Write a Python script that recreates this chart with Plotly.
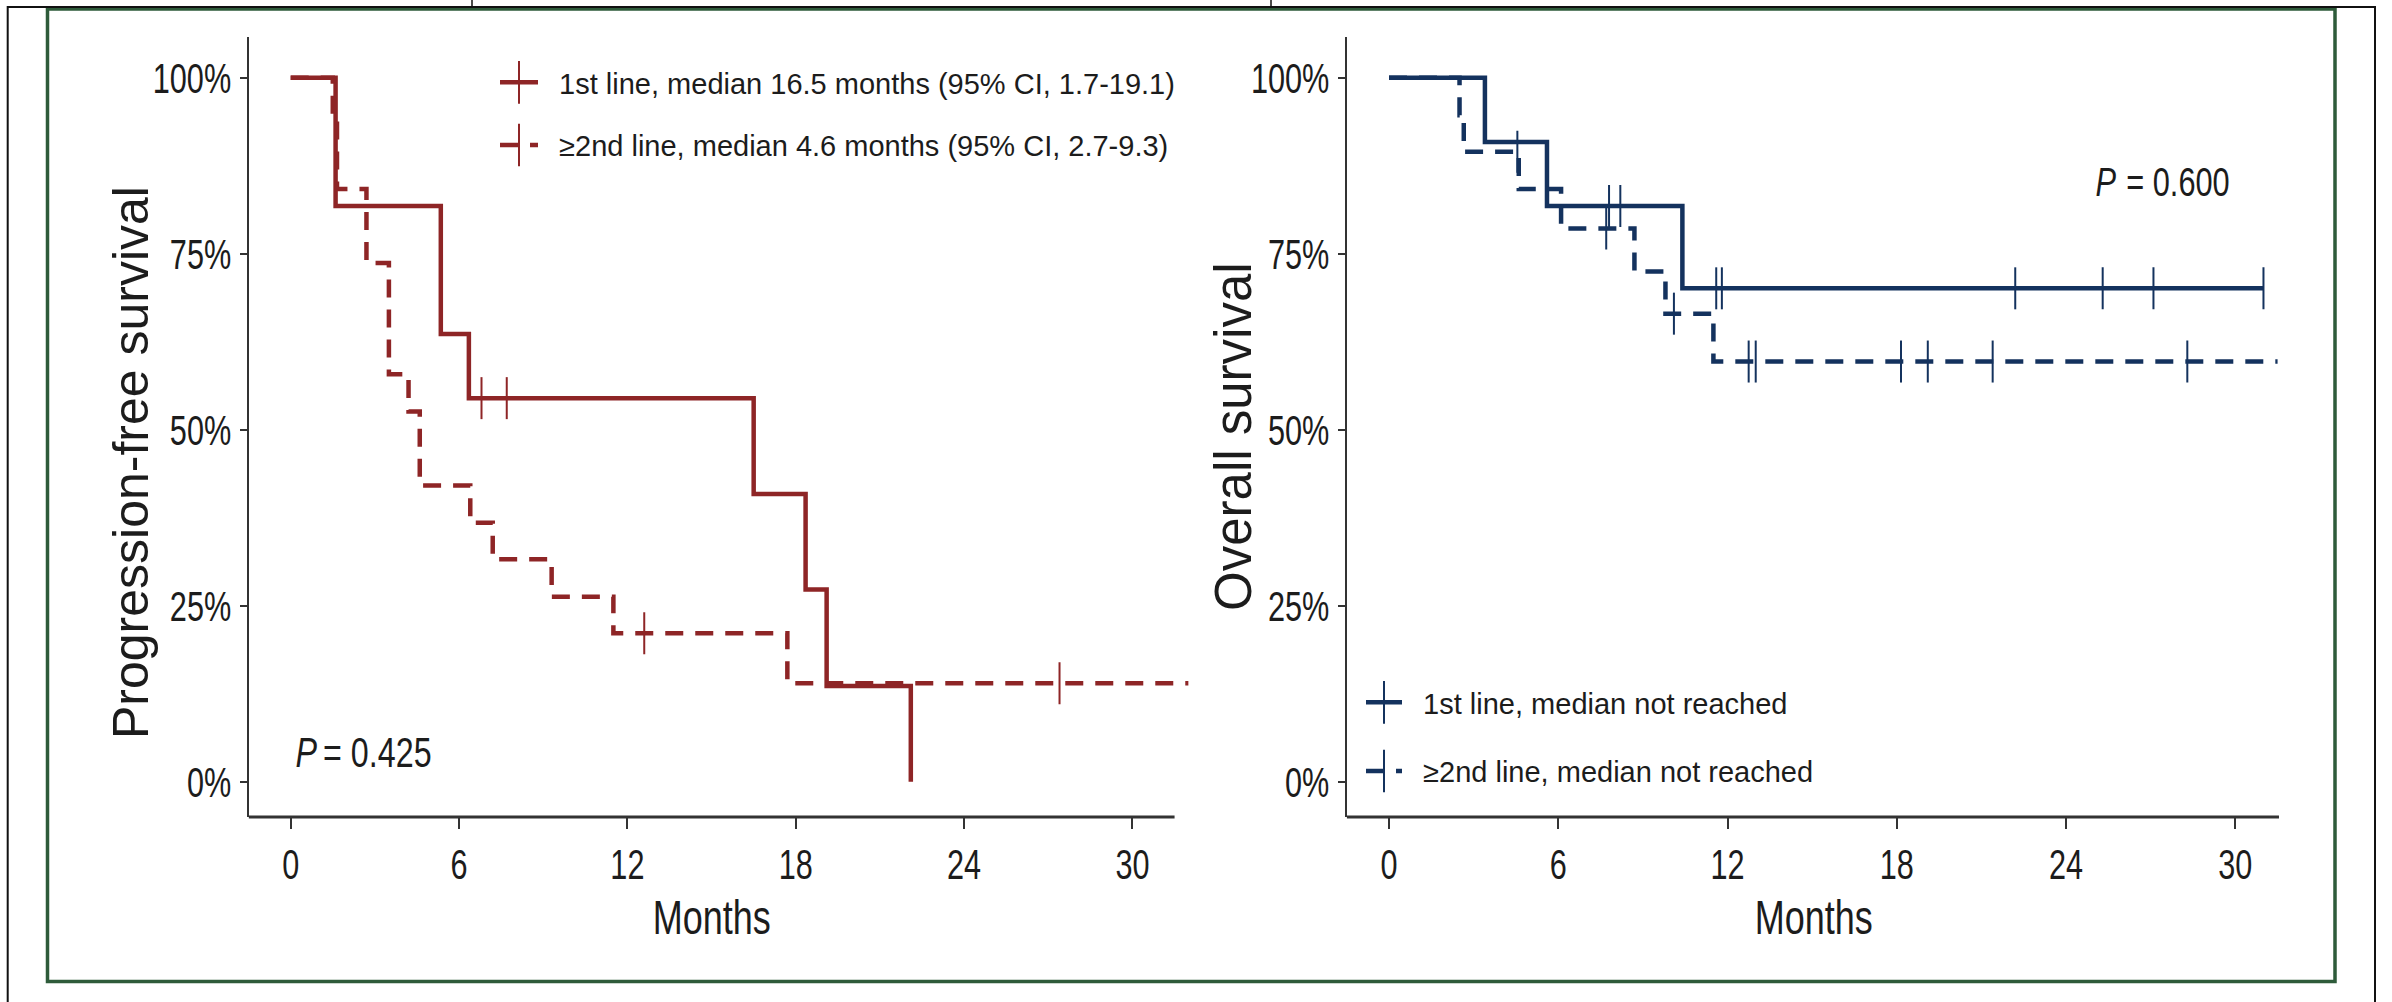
import plotly.graph_objects as go

W, H = 2392, 1002

# ---- Kaplan-Meier step points (time in months, survival fraction, 1 = censored) ----
pfs1_time = [0, 1.6, 5.35, 6.35, 6.8, 7.7, 16.5, 18.35, 19.1, 22.1]
pfs1_surv = [1.0, 0.818, 0.636, 0.545, 0.545, 0.545, 0.409, 0.273, 0.136, 0.0]
pfs1_cens = [0, 0, 0, 0, 1, 1, 0, 0, 0, 0]

pfs2_time = [0, 1.5, 1.65, 2.7, 3.5, 4.2, 4.6, 6.4, 7.2, 9.3, 11.5, 12.6, 17.7, 27.4, 32.0]
pfs2_surv = [1.0, 0.947, 0.842, 0.737, 0.579, 0.526, 0.421, 0.368, 0.316, 0.263, 0.211,
             0.211, 0.140, 0.140, 0.140]
pfs2_cens = [0, 0, 0, 0, 0, 0, 0, 0, 0, 0, 0, 1, 0, 1, 0]

os1_time = [0, 3.4, 5.6, 7.8, 8.2, 10.4, 11.6, 11.8, 22.2, 25.3, 27.1, 31.0]
os1_surv = [1.0, 0.909, 0.818, 0.818, 0.818, 0.701, 0.701, 0.701, 0.701, 0.701, 0.701, 0.701]
os1_cens = [0, 0, 0, 1, 1, 0, 1, 1, 1, 1, 1, 1]

os2_time = [0, 2.5, 2.65, 4.55, 4.6, 6.1, 7.7, 8.7, 9.8, 10.1, 11.5, 12.75, 13.0, 18.15,
            19.1, 21.4, 28.3, 31.5]
os2_surv = [1.0, 0.947, 0.895, 0.895, 0.842, 0.786, 0.786, 0.725, 0.665, 0.665, 0.597,
            0.597, 0.597, 0.597, 0.597, 0.597, 0.597, 0.597]
os2_cens = [0, 0, 0, 1, 0, 0, 1, 0, 0, 1, 0, 1, 1, 1, 1, 1, 1, 0]

pfs_labels = ["1st line, median 16.5 months (95% CI, 1.7-19.1)",
              "\u22652nd line, median 4.6 months (95% CI, 2.7-9.3)"]
os_labels = ["1st line, median not reached", "\u22652nd line, median not reached"]
p_values = ["0.425", "0.600"]

x_ticks = [0, 6, 12, 18, 24, 30]
y_ticks = [0, 0.25, 0.5, 0.75, 1.0]
y_tick_text = ["0%", "25%", "50%", "75%", "100%"]

RED = "#8E2526"
NAVY = "#14325E"
AXIS = "#333333"
TXT = "#1c1c1c"
REG = "Liberation Sans, Arial, sans-serif"
DASH = "18px,12px"
GAP = "\u00a0\u00a0"  # a little room between legend glyph and label


def px_x(p):
    return p / W


def px_y(p):
    return (H - p) / H


fig = go.Figure()


def add_curve(t, s, c, color, dash, xa, ya, name, legend):
    fig.add_trace(go.Scatter(
        x=t, y=s, mode="lines", line=dict(color=color, width=4.5, dash=dash, shape="hv"),
        xaxis=xa, yaxis=ya, showlegend=False, hoverinfo="skip"))
    ct = [ti for ti, ci in zip(t, c) if ci]
    cs = [si for si, ci in zip(s, c) if ci]
    fig.add_trace(go.Scatter(
        x=ct, y=cs, mode="markers",
        marker=dict(symbol="line-ns", size=30, line=dict(color=color, width=2)),
        xaxis=xa, yaxis=ya, showlegend=False, hoverinfo="skip"))
    # legend entry
    fig.add_trace(go.Scatter(
        x=[None], y=[None], mode="lines+markers", name=GAP + name,
        line=dict(color=color, width=4.5, dash=dash),
        marker=dict(symbol="line-ns", size=16, line=dict(color=color, width=2)),
        xaxis=xa, yaxis=ya, legend=legend, legendgroup=name, showlegend=True))


add_curve(pfs1_time, pfs1_surv, pfs1_cens, RED, "solid", "x", "y", pfs_labels[0], "legend")
add_curve(pfs2_time, pfs2_surv, pfs2_cens, RED, DASH, "x", "y", pfs_labels[1], "legend")
add_curve(os1_time, os1_surv, os1_cens, NAVY, "solid", "x2", "y2", os_labels[0], "legend2")
add_curve(os2_time, os2_surv, os2_cens, NAVY, DASH, "x2", "y2", os_labels[1], "legend2")

ydom = [px_y(817), px_y(37)]
xcommon = dict(
    tickmode="array", tickvals=x_ticks, ticks="outside", ticklen=11, tickwidth=2,
    tickcolor=AXIS, showline=False, showgrid=False, zeroline=False,
    tickfont=dict(family=REG, size=42, color=TXT), fixedrange=True,
)
ycommon = dict(
    range=[-0.05, 1.058], domain=ydom, tickmode="array", tickvals=y_ticks,
    ticktext=y_tick_text, ticks="outside", ticklen=7, tickwidth=2, tickcolor=AXIS,
    showline=True, linecolor=AXIS, linewidth=2, showgrid=False, zeroline=False,
    tickfont=dict(family=REG, size=42, color=TXT), fixedrange=True,
)

fig.update_layout(
    width=W, height=H, autosize=False,
    margin=dict(l=0, r=0, t=0, b=0, pad=0),
    paper_bgcolor="white", plot_bgcolor="white",
    xaxis=dict(domain=[px_x(248.6), px_x(1188.6)], range=[-1.5, 32.0], anchor="y", **xcommon),
    yaxis=dict(anchor="x", **ycommon),
    xaxis2=dict(domain=[px_x(1346.7), px_x(2280.4)], range=[-1.5, 31.6], anchor="y2", **xcommon),
    yaxis2=dict(anchor="x2", **ycommon),
    legend=dict(x=px_x(495), y=px_y(57), xanchor="left", yanchor="top",
                font=dict(family=REG, size=29, color=TXT), bgcolor="rgba(0,0,0,0)",
                itemwidth=38, tracegroupgap=22, traceorder="grouped"),
    legend2=dict(x=px_x(1361), y=px_y(677), xanchor="left", yanchor="top",
                 font=dict(family=REG, size=29, color=TXT), bgcolor="rgba(0,0,0,0)",
                 itemwidth=36, tracegroupgap=28, traceorder="grouped"),
    showlegend=True,
)

# axis titles and p-values (indices 0, 1, 4-7 use the narrow setting)
ann = [
    dict(text="Months", x=px_x(711.6), y=px_y(917), font=dict(family=REG, size=48, color=TXT)),
    dict(text="Months", x=px_x(1813), y=px_y(917), font=dict(family=REG, size=48, color=TXT)),
    dict(text="Progression-free survival", x=px_x(131), y=px_y(463), textangle=-90,
         font=dict(family=REG, size=50, color=TXT)),
    dict(text="Overall survival", x=px_x(1233), y=px_y(437), textangle=-90,
         font=dict(family=REG, size=51, color=TXT)),
    dict(text="<i>P</i>", x=px_x(306), y=px_y(752), font=dict(family=REG, size=43, color=TXT)),
    dict(text="= " + p_values[0], x=px_x(377.5), y=px_y(752),
         font=dict(family=REG, size=43, color=TXT)),
    dict(text="<i>P</i>", x=px_x(2106), y=px_y(182), font=dict(family=REG, size=41, color=TXT)),
    dict(text="= " + p_values[1], x=px_x(2178), y=px_y(182),
         font=dict(family=REG, size=41, color=TXT)),
]
for a in ann:
    fig.add_annotation(xref="paper", yref="paper", xanchor="center", yanchor="middle",
                       showarrow=False, **a)

# bottom axis lines
fig.add_shape(type="line", xref="x", yref="paper", x0=-1.5, x1=31.5, y0=px_y(817), y1=px_y(817),
              line=dict(color=AXIS, width=3))
fig.add_shape(type="line", xref="x2", yref="paper", x0=-1.5, x1=31.55, y0=px_y(817), y1=px_y(817),
              line=dict(color=AXIS, width=3))

# page frame
fig.add_shape(type="rect", xref="paper", yref="paper", x0=px_x(47.5), x1=px_x(2335),
              y0=px_y(981.5), y1=px_y(9), line=dict(color="#2E5B3A", width=3.5))
fig.add_shape(type="path", xref="paper", yref="paper",
              path=f"M {px_x(7.7)},{px_y(1010)} L {px_x(7.7)},{px_y(7)} L {px_x(2375)},{px_y(7)} L {px_x(2375)},{px_y(1010)}",
              line=dict(color="#111111", width=2))
for xs in (472, 1271):
    fig.add_shape(type="line", xref="paper", yref="paper", x0=px_x(xs), x1=px_x(xs),
                  y0=px_y(0), y1=px_y(7), line=dict(color="#111111", width=1.5))

# condensed lettering for tick labels, "Months" and the P values;
# taller censor ticks in the legend glyphs
squeeze_js = """
var gd = document.getElementById('{plot_id}');
function squeeze(nodes, f) {
  nodes.forEach(function (t) {
    var w = t.getComputedTextLength();
    t.setAttribute('textLength', (w * f).toFixed(2));
    t.setAttribute('lengthAdjust', 'spacingAndGlyphs');
  });
}
squeeze(gd.querySelectorAll('g.xtick text, g.x2tick text, g.ytick text, g.y2tick text'), 0.73);
[0, 1, 4, 5, 6, 7].forEach(function (i) {
  squeeze(gd.querySelectorAll('g.annotation[data-index="' + i + '"] text.annotation-text'), 0.75);
});
gd.querySelectorAll('g.legendpoints path.scatterpts').forEach(function (p) {
  var tr = p.getAttribute('transform') || '';
  p.setAttribute('transform', tr + ' scale(1,1.9)');
});
"""

fig.write_html("out.html", post_script=squeeze_js)
